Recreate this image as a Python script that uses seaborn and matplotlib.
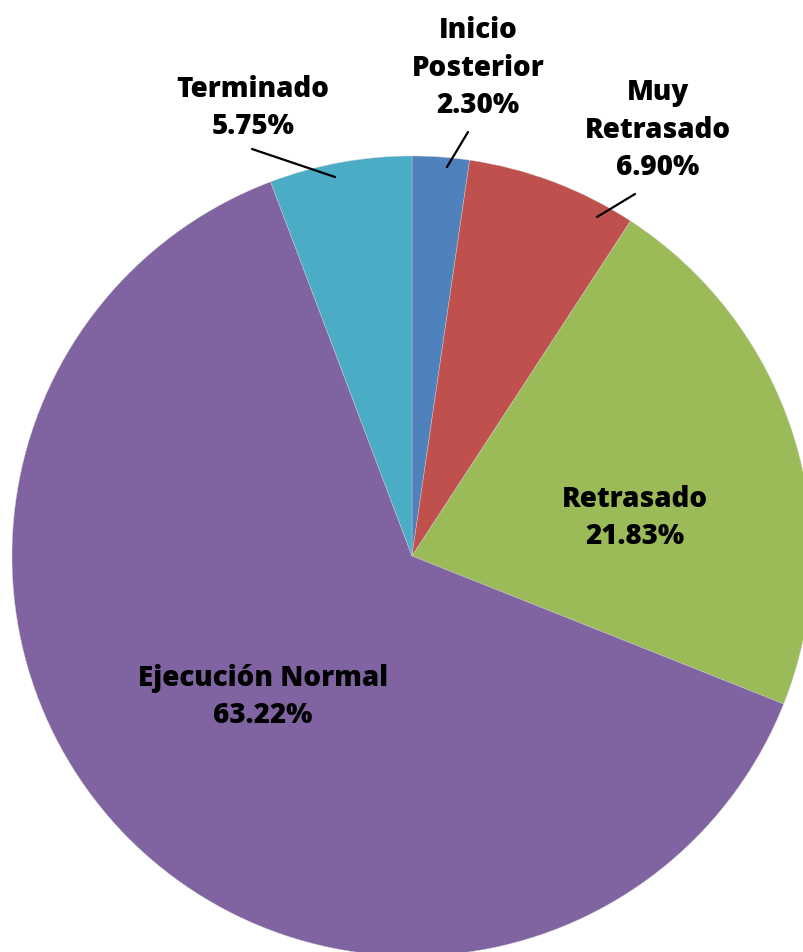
import numpy as np
import matplotlib
matplotlib.use("Agg")
import matplotlib.pyplot as plt
import seaborn as sns

categories = ["Inicio\nPosterior", "Muy\nRetrasado", "Retrasado", "Ejecución Normal", "Terminado"]
values = [2.30, 6.90, 21.83, 63.22, 5.75]
colors = ["#4F81BD", "#C0504D", "#9BBB59", "#8064A2", "#4BACC6"]

sns.set_theme(style="white")
plt.rcParams["font.family"] = ["Open Sans", "DejaVu Sans"]

fig = plt.figure(figsize=(8.04, 9.53), dpi=100)
ax = fig.add_axes([12 / 804, (953 - 557 - 400) / 953, 800 / 804, 800 / 953])

wedges, _ = ax.pie(values, colors=sns.color_palette(colors), startangle=90,
                   counterclock=False, radius=1,
                   wedgeprops=dict(linewidth=0.3, edgecolor="#cccccc"))
ax.set_xlim(-1, 1)
ax.set_ylim(-1, 1)
ax.set_aspect("equal")
ax.axis("off")

font = dict(fontsize=20, fontweight="heavy", color="black", ha="center", va="center",
            linespacing=1.4)

# label centres (pie radius = 1)
label_pos = [(0.165, 1.2225), (0.615, 1.0675), (0.5575, 0.0975), (-0.3725, -0.35), (-0.3975, 1.1225)]
# leader lines for the small slices: (point on slice, point under label)
leaders = {0: ((0.0875, 0.9725), (0.14, 1.06)),
           1: ((0.4625, 0.8475), (0.5575, 0.905)),
           4: ((-0.1925, 0.9475), (-0.40, 1.0175))}

for i, w in enumerate(wedges):
    label = f"{categories[i]}\n{values[i]:.2f}%"
    tx, ty = label_pos[i]
    ax.text(tx, ty, label, clip_on=False, **font)
    if i in leaders:
        (x0, y0), (x1, y1) = leaders[i]
        ax.plot([x0, x1], [y0, y1], color="black", lw=1.6, clip_on=False)

fig.savefig("out.png", dpi=100)
